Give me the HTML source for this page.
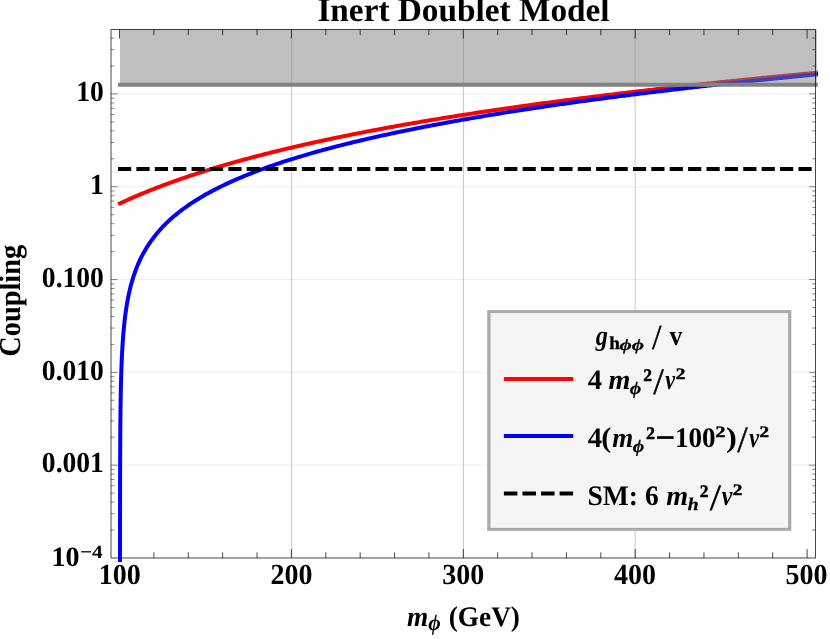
<!DOCTYPE html>
<html><head><meta charset="utf-8"><title>Inert Doublet Model</title>
<style>html,body{margin:0;padding:0;background:#fff;}svg{display:block;will-change:transform;text-rendering:geometricPrecision;}</style></head>
<body>
<svg width="830" height="639" viewBox="0 0 830 639">
<rect width="830" height="639" fill="#fff"/>
<line x1="291.70" x2="291.70" y1="29.50" y2="558.00" stroke="#000" stroke-opacity="0.22" stroke-width="1"/>
<line x1="463.40" x2="463.40" y1="29.50" y2="558.00" stroke="#000" stroke-opacity="0.22" stroke-width="1"/>
<line x1="635.10" x2="635.10" y1="29.50" y2="558.00" stroke="#000" stroke-opacity="0.22" stroke-width="1"/>
<line x1="111.00" x2="815.50" y1="93.95" y2="93.95" stroke="#000" stroke-opacity="0.065" stroke-width="1"/>
<line x1="111.00" x2="815.50" y1="186.75" y2="186.75" stroke="#000" stroke-opacity="0.065" stroke-width="1"/>
<line x1="111.00" x2="815.50" y1="279.55" y2="279.55" stroke="#000" stroke-opacity="0.065" stroke-width="1"/>
<line x1="111.00" x2="815.50" y1="372.35" y2="372.35" stroke="#000" stroke-opacity="0.065" stroke-width="1"/>
<line x1="111.00" x2="815.50" y1="465.15" y2="465.15" stroke="#000" stroke-opacity="0.065" stroke-width="1"/>
<path d="M120.00,203.44 L121.74,202.62 L123.48,201.82 L125.22,201.02 L126.96,200.23 L128.70,199.45 L130.44,198.68 L132.18,197.91 L133.92,197.15 L135.66,196.40 L137.40,195.66 L139.14,194.92 L140.88,194.19 L142.62,193.46 L144.36,192.74 L146.10,192.03 L147.84,191.33 L149.58,190.63 L151.32,189.93 L153.06,189.24 L154.80,188.56 L156.53,187.89 L158.27,187.22 L160.01,186.55 L161.75,185.89 L163.49,185.24 L165.23,184.59 L166.97,183.94 L168.71,183.30 L170.45,182.67 L172.19,182.04 L173.93,181.42 L175.67,180.80 L177.41,180.18 L179.15,179.58 L180.89,178.97 L182.63,178.37 L184.37,177.77 L186.11,177.18 L187.85,176.59 L189.59,176.01 L191.33,175.43 L193.07,174.86 L194.81,174.29 L196.55,173.72 L198.29,173.16 L200.03,172.60 L201.77,172.04 L203.51,171.49 L205.25,170.94 L206.99,170.40 L208.73,169.86 L210.47,169.32 L212.21,168.79 L213.95,168.26 L215.69,167.73 L217.43,167.21 L219.17,166.69 L220.91,166.17 L222.65,165.66 L224.39,165.15 L226.12,164.65 L227.86,164.14 L229.60,163.64 L231.34,163.15 L233.08,162.65 L234.82,162.16 L236.56,161.67 L238.30,161.19 L240.04,160.71 L241.78,160.23 L243.52,159.75 L245.26,159.28 L247.00,158.81 L248.74,158.34 L250.48,157.87 L252.22,157.41 L253.96,156.95 L255.70,156.49 L257.44,156.04 L259.18,155.58 L260.92,155.13 L262.66,154.69 L264.40,154.24 L266.14,153.80 L267.88,153.36 L269.62,152.92 L271.36,152.49 L273.10,152.05 L274.84,151.62 L276.58,151.20 L278.32,150.77 L280.06,150.35 L281.80,149.92 L283.54,149.50 L285.28,149.09 L287.02,148.67 L288.76,148.26 L290.50,147.85 L292.24,147.44 L293.98,147.03 L295.71,146.63 L297.45,146.23 L299.19,145.83 L300.93,145.43 L302.67,145.03 L304.41,144.63 L306.15,144.24 L307.89,143.85 L309.63,143.46 L311.37,143.07 L313.11,142.69 L314.85,142.31 L316.59,141.92 L318.33,141.54 L320.07,141.17 L321.81,140.79 L323.55,140.42 L325.29,140.04 L327.03,139.67 L328.77,139.30 L330.51,138.93 L332.25,138.57 L333.99,138.20 L335.73,137.84 L337.47,137.48 L339.21,137.12 L340.95,136.76 L342.69,136.41 L344.43,136.05 L346.17,135.70 L347.91,135.35 L349.65,135.00 L351.39,134.65 L353.13,134.30 L354.87,133.95 L356.61,133.61 L358.35,133.27 L360.09,132.93 L361.83,132.59 L363.57,132.25 L365.30,131.91 L367.04,131.58 L368.78,131.24 L370.52,130.91 L372.26,130.58 L374.00,130.25 L375.74,129.92 L377.48,129.59 L379.22,129.27 L380.96,128.94 L382.70,128.62 L384.44,128.29 L386.18,127.97 L387.92,127.65 L389.66,127.34 L391.40,127.02 L393.14,126.70 L394.88,126.39 L396.62,126.07 L398.36,125.76 L400.10,125.45 L401.84,125.14 L403.58,124.83 L405.32,124.53 L407.06,124.22 L408.80,123.91 L410.54,123.61 L412.28,123.31 L414.02,123.01 L415.76,122.71 L417.50,122.41 L419.24,122.11 L420.98,121.81 L422.72,121.51 L424.46,121.22 L426.20,120.93 L427.94,120.63 L429.68,120.34 L431.42,120.05 L433.16,119.76 L434.89,119.47 L436.63,119.18 L438.37,118.90 L440.11,118.61 L441.85,118.33 L443.59,118.04 L445.33,117.76 L447.07,117.48 L448.81,117.20 L450.55,116.92 L452.29,116.64 L454.03,116.36 L455.77,116.09 L457.51,115.81 L459.25,115.53 L460.99,115.26 L462.73,114.99 L464.47,114.72 L466.21,114.44 L467.95,114.17 L469.69,113.90 L471.43,113.64 L473.17,113.37 L474.91,113.10 L476.65,112.84 L478.39,112.57 L480.13,112.31 L481.87,112.04 L483.61,111.78 L485.35,111.52 L487.09,111.26 L488.83,111.00 L490.57,110.74 L492.31,110.48 L494.05,110.22 L495.79,109.97 L497.53,109.71 L499.27,109.46 L501.01,109.20 L502.75,108.95 L504.48,108.70 L506.22,108.45 L507.96,108.19 L509.70,107.94 L511.44,107.69 L513.18,107.45 L514.92,107.20 L516.66,106.95 L518.40,106.70 L520.14,106.46 L521.88,106.21 L523.62,105.97 L525.36,105.73 L527.10,105.48 L528.84,105.24 L530.58,105.00 L532.32,104.76 L534.06,104.52 L535.80,104.28 L537.54,104.04 L539.28,103.81 L541.02,103.57 L542.76,103.33 L544.50,103.10 L546.24,102.86 L547.98,102.63 L549.72,102.39 L551.46,102.16 L553.20,101.93 L554.94,101.70 L556.68,101.47 L558.42,101.24 L560.16,101.01 L561.90,100.78 L563.64,100.55 L565.38,100.32 L567.12,100.10 L568.86,99.87 L570.60,99.64 L572.34,99.42 L574.07,99.19 L575.81,98.97 L577.55,98.75 L579.29,98.53 L581.03,98.30 L582.77,98.08 L584.51,97.86 L586.25,97.64 L587.99,97.42 L589.73,97.20 L591.47,96.98 L593.21,96.77 L594.95,96.55 L596.69,96.33 L598.43,96.12 L600.17,95.90 L601.91,95.69 L603.65,95.47 L605.39,95.26 L607.13,95.05 L608.87,94.83 L610.61,94.62 L612.35,94.41 L614.09,94.20 L615.83,93.99 L617.57,93.78 L619.31,93.57 L621.05,93.36 L622.79,93.15 L624.53,92.94 L626.27,92.74 L628.01,92.53 L629.75,92.32 L631.49,92.12 L633.23,91.91 L634.97,91.71 L636.71,91.51 L638.45,91.30 L640.19,91.10 L641.93,90.90 L643.66,90.70 L645.40,90.49 L647.14,90.29 L648.88,90.09 L650.62,89.89 L652.36,89.69 L654.10,89.49 L655.84,89.30 L657.58,89.10 L659.32,88.90 L661.06,88.70 L662.80,88.51 L664.54,88.31 L666.28,88.12 L668.02,87.92 L669.76,87.73 L671.50,87.53 L673.24,87.34 L674.98,87.14 L676.72,86.95 L678.46,86.76 L680.20,86.57 L681.94,86.38 L683.68,86.19 L685.42,85.99 L687.16,85.80 L688.90,85.62 L690.64,85.43 L692.38,85.24 L694.12,85.05 L695.86,84.86 L697.60,84.67 L699.34,84.49 L701.08,84.30 L702.82,84.11 L704.56,83.93 L706.30,83.74 L708.04,83.56 L709.78,83.37 L711.52,83.19 L713.25,83.01 L714.99,82.82 L716.73,82.64 L718.47,82.46 L720.21,82.28 L721.95,82.10 L723.69,81.91 L725.43,81.73 L727.17,81.55 L728.91,81.37 L730.65,81.19 L732.39,81.02 L734.13,80.84 L735.87,80.66 L737.61,80.48 L739.35,80.30 L741.09,80.13 L742.83,79.95 L744.57,79.77 L746.31,79.60 L748.05,79.42 L749.79,79.25 L751.53,79.07 L753.27,78.90 L755.01,78.72 L756.75,78.55 L758.49,78.38 L760.23,78.20 L761.97,78.03 L763.71,77.86 L765.45,77.69 L767.19,77.52 L768.93,77.34 L770.67,77.17 L772.41,77.00 L774.15,76.83 L775.89,76.66 L777.63,76.49 L779.37,76.33 L781.11,76.16 L782.84,75.99 L784.58,75.82 L786.32,75.65 L788.06,75.49 L789.80,75.32 L791.54,75.15 L793.28,74.99 L795.02,74.82 L796.76,74.66 L798.50,74.49 L800.24,74.33 L801.98,74.16 L803.72,74.00 L805.46,73.83 L807.20,73.67 L808.94,73.51 L810.68,73.34 L812.42,73.18 L814.16,73.02 L815.90,72.86" fill="none" stroke="#ff0000" stroke-width="4" stroke-linecap="square" stroke-linejoin="round"/>
<path d="M120.00,560.10 L120.01,559.22 L120.01,553.81 L120.02,548.39 L120.02,542.98 L120.02,537.57 L120.02,532.15 L120.03,526.74 L120.03,521.32 L120.04,515.91 L120.04,510.50 L120.05,505.08 L120.06,499.67 L120.06,494.25 L120.07,488.84 L120.08,483.43 L120.09,478.01 L120.11,472.60 L120.12,467.18 L120.14,461.76 L120.16,456.35 L120.18,450.93 L120.21,445.52 L120.24,440.10 L120.28,434.68 L120.32,429.26 L120.36,423.85 L120.41,418.43 L120.47,413.01 L120.54,407.58 L120.62,402.16 L120.71,396.74 L120.81,391.31 L120.93,385.89 L121.06,380.46 L121.21,375.03 L121.39,369.59 L121.58,364.16 L121.81,358.72 L122.07,353.27 L122.37,347.82 L122.71,342.37 L123.10,336.91 L123.55,331.45 L124.06,325.97 L124.64,320.49 L125.31,315.00 L126.07,309.50 L126.94,303.99 L127.94,298.46 L129.08,292.92 L130.39,287.35 L131.88,281.77 L133.59,276.16 L135.54,270.53 L137.78,264.87 L140.33,259.17 L143.26,253.43 L146.60,247.65 L150.42,241.83 L154.80,235.94 L156.45,233.90 L158.10,231.94 L159.75,230.05 L161.41,228.24 L163.06,226.49 L164.71,224.80 L166.36,223.16 L168.02,221.58 L169.67,220.05 L171.32,218.56 L172.98,217.11 L174.63,215.71 L176.28,214.34 L177.93,213.00 L179.59,211.71 L181.24,210.44 L182.89,209.20 L184.54,207.99 L186.20,206.81 L187.85,205.65 L189.50,204.52 L191.16,203.41 L192.81,202.33 L194.46,201.26 L196.11,200.22 L197.77,199.19 L199.42,198.19 L201.07,197.20 L202.73,196.23 L204.38,195.28 L206.03,194.34 L207.68,193.42 L209.34,192.51 L210.99,191.62 L212.64,190.74 L214.29,189.88 L215.95,189.02 L217.60,188.18 L219.25,187.36 L220.91,186.54 L222.56,185.74 L224.21,184.94 L225.86,184.16 L227.52,183.39 L229.17,182.63 L230.82,181.87 L232.47,181.13 L234.13,180.40 L235.78,179.67 L237.43,178.96 L239.09,178.25 L240.74,177.55 L242.39,176.86 L244.04,176.17 L245.70,175.50 L247.35,174.83 L249.00,174.17 L250.66,173.52 L252.31,172.87 L253.96,172.23 L255.61,171.60 L257.27,170.97 L258.92,170.35 L260.57,169.73 L262.22,169.13 L263.88,168.52 L265.53,167.93 L267.18,167.33 L268.84,166.75 L270.49,166.17 L272.14,165.59 L273.79,165.02 L275.45,164.46 L277.10,163.90 L278.75,163.35 L280.40,162.80 L282.06,162.25 L283.71,161.71 L285.36,161.17 L287.02,160.64 L288.67,160.12 L290.32,159.59 L291.97,159.07 L293.63,158.56 L295.28,158.05 L296.93,157.54 L298.59,157.04 L300.24,156.54 L301.89,156.05 L303.54,155.56 L305.20,155.07 L306.85,154.58 L308.50,154.10 L310.15,153.63 L311.81,153.15 L313.46,152.68 L315.11,152.22 L316.77,151.75 L318.42,151.29 L320.07,150.84 L321.72,150.38 L323.38,149.93 L325.03,149.48 L326.68,149.04 L328.34,148.60 L329.99,148.16 L331.64,147.72 L333.29,147.29 L334.95,146.86 L336.60,146.43 L338.25,146.00 L339.90,145.58 L341.56,145.16 L343.21,144.74 L344.86,144.33 L346.52,143.92 L348.17,143.51 L349.82,143.10 L351.47,142.70 L353.13,142.29 L354.78,141.89 L356.43,141.50 L358.08,141.10 L359.74,140.71 L361.39,140.32 L363.04,139.93 L364.70,139.54 L366.35,139.16 L368.00,138.77 L369.65,138.39 L371.31,138.02 L372.96,137.64 L374.61,137.27 L376.27,136.89 L377.92,136.52 L379.57,136.16 L381.22,135.79 L382.88,135.42 L384.53,135.06 L386.18,134.70 L387.83,134.34 L389.49,133.99 L391.14,133.63 L392.79,133.28 L394.45,132.93 L396.10,132.58 L397.75,132.23 L399.40,131.88 L401.06,131.54 L402.71,131.20 L404.36,130.86 L406.01,130.52 L407.67,130.18 L409.32,129.84 L410.97,129.51 L412.63,129.17 L414.28,128.84 L415.93,128.51 L417.58,128.18 L419.24,127.86 L420.89,127.53 L422.54,127.21 L424.20,126.88 L425.85,126.56 L427.50,126.24 L429.15,125.93 L430.81,125.61 L432.46,125.29 L434.11,124.98 L435.76,124.67 L437.42,124.35 L439.07,124.04 L440.72,123.74 L442.38,123.43 L444.03,123.12 L445.68,122.82 L447.33,122.51 L448.99,122.21 L450.64,121.91 L452.29,121.61 L453.95,121.31 L455.60,121.02 L457.25,120.72 L458.90,120.43 L460.56,120.13 L462.21,119.84 L463.86,119.55 L465.51,119.26 L467.17,118.97 L468.82,118.68 L470.47,118.40 L472.13,118.11 L473.78,117.83 L475.43,117.54 L477.08,117.26 L478.74,116.98 L480.39,116.70 L482.04,116.42 L483.69,116.14 L485.35,115.87 L487.00,115.59 L488.65,115.31 L490.31,115.04 L491.96,114.77 L493.61,114.50 L495.26,114.23 L496.92,113.96 L498.57,113.69 L500.22,113.42 L501.88,113.15 L503.53,112.89 L505.18,112.62 L506.83,112.36 L508.49,112.10 L510.14,111.83 L511.79,111.57 L513.44,111.31 L515.10,111.05 L516.75,110.79 L518.40,110.54 L520.06,110.28 L521.71,110.02 L523.36,109.77 L525.01,109.52 L526.67,109.26 L528.32,109.01 L529.97,108.76 L531.62,108.51 L533.28,108.26 L534.93,108.01 L536.58,107.76 L538.24,107.52 L539.89,107.27 L541.54,107.02 L543.19,106.78 L544.85,106.54 L546.50,106.29 L548.15,106.05 L549.81,105.81 L551.46,105.57 L553.11,105.33 L554.76,105.09 L556.42,104.85 L558.07,104.61 L559.72,104.38 L561.37,104.14 L563.03,103.90 L564.68,103.67 L566.33,103.44 L567.99,103.20 L569.64,102.97 L571.29,102.74 L572.94,102.51 L574.60,102.28 L576.25,102.05 L577.90,101.82 L579.56,101.59 L581.21,101.36 L582.86,101.14 L584.51,100.91 L586.17,100.68 L587.82,100.46 L589.47,100.23 L591.12,100.01 L592.78,99.79 L594.43,99.57 L596.08,99.34 L597.74,99.12 L599.39,98.90 L601.04,98.68 L602.69,98.46 L604.35,98.25 L606.00,98.03 L607.65,97.81 L609.30,97.60 L610.96,97.38 L612.61,97.16 L614.26,96.95 L615.92,96.74 L617.57,96.52 L619.22,96.31 L620.87,96.10 L622.53,95.89 L624.18,95.67 L625.83,95.46 L627.49,95.25 L629.14,95.05 L630.79,94.84 L632.44,94.63 L634.10,94.42 L635.75,94.21 L637.40,94.01 L639.05,93.80 L640.71,93.60 L642.36,93.39 L644.01,93.19 L645.67,92.98 L647.32,92.78 L648.97,92.58 L650.62,92.38 L652.28,92.17 L653.93,91.97 L655.58,91.77 L657.23,91.57 L658.89,91.37 L660.54,91.18 L662.19,90.98 L663.85,90.78 L665.50,90.58 L667.15,90.39 L668.80,90.19 L670.46,89.99 L672.11,89.80 L673.76,89.60 L675.42,89.41 L677.07,89.21 L678.72,89.02 L680.37,88.83 L682.03,88.64 L683.68,88.44 L685.33,88.25 L686.98,88.06 L688.64,87.87 L690.29,87.68 L691.94,87.49 L693.60,87.30 L695.25,87.11 L696.90,86.93 L698.55,86.74 L700.21,86.55 L701.86,86.37 L703.51,86.18 L705.16,85.99 L706.82,85.81 L708.47,85.62 L710.12,85.44 L711.78,85.25 L713.43,85.07 L715.08,84.89 L716.73,84.71 L718.39,84.52 L720.04,84.34 L721.69,84.16 L723.35,83.98 L725.00,83.80 L726.65,83.62 L728.30,83.44 L729.96,83.26 L731.61,83.08 L733.26,82.90 L734.91,82.72 L736.57,82.55 L738.22,82.37 L739.87,82.19 L741.53,82.02 L743.18,81.84 L744.83,81.66 L746.48,81.49 L748.14,81.31 L749.79,81.14 L751.44,80.97 L753.10,80.79 L754.75,80.62 L756.40,80.45 L758.05,80.27 L759.71,80.10 L761.36,79.93 L763.01,79.76 L764.66,79.59 L766.32,79.42 L767.97,79.25 L769.62,79.08 L771.28,78.91 L772.93,78.74 L774.58,78.57 L776.23,78.40 L777.89,78.23 L779.54,78.07 L781.19,77.90 L782.84,77.73 L784.50,77.57 L786.15,77.40 L787.80,77.23 L789.46,77.07 L791.11,76.90 L792.76,76.74 L794.41,76.57 L796.07,76.41 L797.72,76.25 L799.37,76.08 L801.03,75.92 L802.68,75.76 L804.33,75.59 L805.98,75.43 L807.64,75.27 L809.29,75.11 L810.94,74.95 L812.59,74.79 L814.25,74.63 L815.90,74.47" fill="none" stroke="#0000ff" stroke-width="4" stroke-linecap="square" stroke-linejoin="round"/>
<line x1="120.00" x2="815.90" y1="169.11" y2="169.11" stroke="#000" stroke-width="4" stroke-linecap="square" stroke-dasharray="9.195 9.195"/>
<rect x="120.00" y="29.50" width="696.90" height="55.25" fill="#808080" fill-opacity="0.5"/>
<line x1="120.00" x2="815.90" y1="84.75" y2="84.75" stroke="#828282" stroke-width="3.9" stroke-linecap="square"/>
<rect x="111.00" y="29.50" width="704.50" height="528.50" fill="none" stroke="#000" stroke-opacity="0.72" stroke-width="1"/>
<line x1="119.50" x2="119.50" y1="558.00" y2="549.00" stroke="#000" stroke-opacity="0.72" stroke-width="1"/>
<line x1="119.50" x2="119.50" y1="29.50" y2="38.50" stroke="#000" stroke-opacity="0.72" stroke-width="1"/>
<line x1="153.88" x2="153.88" y1="558.00" y2="552.40" stroke="#000" stroke-opacity="0.72" stroke-width="1"/>
<line x1="153.88" x2="153.88" y1="29.50" y2="35.10" stroke="#000" stroke-opacity="0.72" stroke-width="1"/>
<line x1="188.26" x2="188.26" y1="558.00" y2="552.40" stroke="#000" stroke-opacity="0.72" stroke-width="1"/>
<line x1="188.26" x2="188.26" y1="29.50" y2="35.10" stroke="#000" stroke-opacity="0.72" stroke-width="1"/>
<line x1="222.64" x2="222.64" y1="558.00" y2="552.40" stroke="#000" stroke-opacity="0.72" stroke-width="1"/>
<line x1="222.64" x2="222.64" y1="29.50" y2="35.10" stroke="#000" stroke-opacity="0.72" stroke-width="1"/>
<line x1="257.02" x2="257.02" y1="558.00" y2="552.40" stroke="#000" stroke-opacity="0.72" stroke-width="1"/>
<line x1="257.02" x2="257.02" y1="29.50" y2="35.10" stroke="#000" stroke-opacity="0.72" stroke-width="1"/>
<line x1="291.40" x2="291.40" y1="558.00" y2="549.00" stroke="#000" stroke-opacity="0.72" stroke-width="1"/>
<line x1="291.40" x2="291.40" y1="29.50" y2="38.50" stroke="#000" stroke-opacity="0.72" stroke-width="1"/>
<line x1="325.78" x2="325.78" y1="558.00" y2="552.40" stroke="#000" stroke-opacity="0.72" stroke-width="1"/>
<line x1="325.78" x2="325.78" y1="29.50" y2="35.10" stroke="#000" stroke-opacity="0.72" stroke-width="1"/>
<line x1="360.16" x2="360.16" y1="558.00" y2="552.40" stroke="#000" stroke-opacity="0.72" stroke-width="1"/>
<line x1="360.16" x2="360.16" y1="29.50" y2="35.10" stroke="#000" stroke-opacity="0.72" stroke-width="1"/>
<line x1="394.54" x2="394.54" y1="558.00" y2="552.40" stroke="#000" stroke-opacity="0.72" stroke-width="1"/>
<line x1="394.54" x2="394.54" y1="29.50" y2="35.10" stroke="#000" stroke-opacity="0.72" stroke-width="1"/>
<line x1="428.92" x2="428.92" y1="558.00" y2="552.40" stroke="#000" stroke-opacity="0.72" stroke-width="1"/>
<line x1="428.92" x2="428.92" y1="29.50" y2="35.10" stroke="#000" stroke-opacity="0.72" stroke-width="1"/>
<line x1="463.30" x2="463.30" y1="558.00" y2="549.00" stroke="#000" stroke-opacity="0.72" stroke-width="1"/>
<line x1="463.30" x2="463.30" y1="29.50" y2="38.50" stroke="#000" stroke-opacity="0.72" stroke-width="1"/>
<line x1="497.68" x2="497.68" y1="558.00" y2="552.40" stroke="#000" stroke-opacity="0.72" stroke-width="1"/>
<line x1="497.68" x2="497.68" y1="29.50" y2="35.10" stroke="#000" stroke-opacity="0.72" stroke-width="1"/>
<line x1="532.06" x2="532.06" y1="558.00" y2="552.40" stroke="#000" stroke-opacity="0.72" stroke-width="1"/>
<line x1="532.06" x2="532.06" y1="29.50" y2="35.10" stroke="#000" stroke-opacity="0.72" stroke-width="1"/>
<line x1="566.44" x2="566.44" y1="558.00" y2="552.40" stroke="#000" stroke-opacity="0.72" stroke-width="1"/>
<line x1="566.44" x2="566.44" y1="29.50" y2="35.10" stroke="#000" stroke-opacity="0.72" stroke-width="1"/>
<line x1="600.82" x2="600.82" y1="558.00" y2="552.40" stroke="#000" stroke-opacity="0.72" stroke-width="1"/>
<line x1="600.82" x2="600.82" y1="29.50" y2="35.10" stroke="#000" stroke-opacity="0.72" stroke-width="1"/>
<line x1="635.20" x2="635.20" y1="558.00" y2="549.00" stroke="#000" stroke-opacity="0.72" stroke-width="1"/>
<line x1="635.20" x2="635.20" y1="29.50" y2="38.50" stroke="#000" stroke-opacity="0.72" stroke-width="1"/>
<line x1="669.58" x2="669.58" y1="558.00" y2="552.40" stroke="#000" stroke-opacity="0.72" stroke-width="1"/>
<line x1="669.58" x2="669.58" y1="29.50" y2="35.10" stroke="#000" stroke-opacity="0.72" stroke-width="1"/>
<line x1="703.96" x2="703.96" y1="558.00" y2="552.40" stroke="#000" stroke-opacity="0.72" stroke-width="1"/>
<line x1="703.96" x2="703.96" y1="29.50" y2="35.10" stroke="#000" stroke-opacity="0.72" stroke-width="1"/>
<line x1="738.34" x2="738.34" y1="558.00" y2="552.40" stroke="#000" stroke-opacity="0.72" stroke-width="1"/>
<line x1="738.34" x2="738.34" y1="29.50" y2="35.10" stroke="#000" stroke-opacity="0.72" stroke-width="1"/>
<line x1="772.72" x2="772.72" y1="558.00" y2="552.40" stroke="#000" stroke-opacity="0.72" stroke-width="1"/>
<line x1="772.72" x2="772.72" y1="29.50" y2="35.10" stroke="#000" stroke-opacity="0.72" stroke-width="1"/>
<line x1="807.10" x2="807.10" y1="558.00" y2="549.00" stroke="#000" stroke-opacity="0.72" stroke-width="1"/>
<line x1="807.10" x2="807.10" y1="29.50" y2="38.50" stroke="#000" stroke-opacity="0.72" stroke-width="1"/>
<line x1="111.00" x2="114.40" y1="530.01" y2="530.01" stroke="#000" stroke-opacity="0.72" stroke-width="0.65"/>
<line x1="815.50" x2="812.10" y1="530.01" y2="530.01" stroke="#000" stroke-opacity="0.72" stroke-width="0.65"/>
<line x1="111.00" x2="114.40" y1="513.67" y2="513.67" stroke="#000" stroke-opacity="0.72" stroke-width="0.65"/>
<line x1="815.50" x2="812.10" y1="513.67" y2="513.67" stroke="#000" stroke-opacity="0.72" stroke-width="0.65"/>
<line x1="111.00" x2="114.40" y1="502.08" y2="502.08" stroke="#000" stroke-opacity="0.72" stroke-width="0.65"/>
<line x1="815.50" x2="812.10" y1="502.08" y2="502.08" stroke="#000" stroke-opacity="0.72" stroke-width="0.65"/>
<line x1="111.00" x2="114.40" y1="493.09" y2="493.09" stroke="#000" stroke-opacity="0.72" stroke-width="0.65"/>
<line x1="815.50" x2="812.10" y1="493.09" y2="493.09" stroke="#000" stroke-opacity="0.72" stroke-width="0.65"/>
<line x1="111.00" x2="114.40" y1="485.74" y2="485.74" stroke="#000" stroke-opacity="0.72" stroke-width="0.65"/>
<line x1="815.50" x2="812.10" y1="485.74" y2="485.74" stroke="#000" stroke-opacity="0.72" stroke-width="0.65"/>
<line x1="111.00" x2="114.40" y1="479.52" y2="479.52" stroke="#000" stroke-opacity="0.72" stroke-width="0.65"/>
<line x1="815.50" x2="812.10" y1="479.52" y2="479.52" stroke="#000" stroke-opacity="0.72" stroke-width="0.65"/>
<line x1="111.00" x2="114.40" y1="474.14" y2="474.14" stroke="#000" stroke-opacity="0.72" stroke-width="0.65"/>
<line x1="815.50" x2="812.10" y1="474.14" y2="474.14" stroke="#000" stroke-opacity="0.72" stroke-width="0.65"/>
<line x1="111.00" x2="114.40" y1="469.40" y2="469.40" stroke="#000" stroke-opacity="0.72" stroke-width="0.65"/>
<line x1="815.50" x2="812.10" y1="469.40" y2="469.40" stroke="#000" stroke-opacity="0.72" stroke-width="0.65"/>
<line x1="111.00" x2="117.50" y1="465.15" y2="465.15" stroke="#000" stroke-opacity="0.72" stroke-width="0.65"/>
<line x1="815.50" x2="809.00" y1="465.15" y2="465.15" stroke="#000" stroke-opacity="0.72" stroke-width="0.65"/>
<line x1="111.00" x2="114.40" y1="437.21" y2="437.21" stroke="#000" stroke-opacity="0.72" stroke-width="0.65"/>
<line x1="815.50" x2="812.10" y1="437.21" y2="437.21" stroke="#000" stroke-opacity="0.72" stroke-width="0.65"/>
<line x1="111.00" x2="114.40" y1="420.87" y2="420.87" stroke="#000" stroke-opacity="0.72" stroke-width="0.65"/>
<line x1="815.50" x2="812.10" y1="420.87" y2="420.87" stroke="#000" stroke-opacity="0.72" stroke-width="0.65"/>
<line x1="111.00" x2="114.40" y1="409.28" y2="409.28" stroke="#000" stroke-opacity="0.72" stroke-width="0.65"/>
<line x1="815.50" x2="812.10" y1="409.28" y2="409.28" stroke="#000" stroke-opacity="0.72" stroke-width="0.65"/>
<line x1="111.00" x2="114.40" y1="400.29" y2="400.29" stroke="#000" stroke-opacity="0.72" stroke-width="0.65"/>
<line x1="815.50" x2="812.10" y1="400.29" y2="400.29" stroke="#000" stroke-opacity="0.72" stroke-width="0.65"/>
<line x1="111.00" x2="114.40" y1="392.94" y2="392.94" stroke="#000" stroke-opacity="0.72" stroke-width="0.65"/>
<line x1="815.50" x2="812.10" y1="392.94" y2="392.94" stroke="#000" stroke-opacity="0.72" stroke-width="0.65"/>
<line x1="111.00" x2="114.40" y1="386.72" y2="386.72" stroke="#000" stroke-opacity="0.72" stroke-width="0.65"/>
<line x1="815.50" x2="812.10" y1="386.72" y2="386.72" stroke="#000" stroke-opacity="0.72" stroke-width="0.65"/>
<line x1="111.00" x2="114.40" y1="381.34" y2="381.34" stroke="#000" stroke-opacity="0.72" stroke-width="0.65"/>
<line x1="815.50" x2="812.10" y1="381.34" y2="381.34" stroke="#000" stroke-opacity="0.72" stroke-width="0.65"/>
<line x1="111.00" x2="114.40" y1="376.60" y2="376.60" stroke="#000" stroke-opacity="0.72" stroke-width="0.65"/>
<line x1="815.50" x2="812.10" y1="376.60" y2="376.60" stroke="#000" stroke-opacity="0.72" stroke-width="0.65"/>
<line x1="111.00" x2="117.50" y1="372.35" y2="372.35" stroke="#000" stroke-opacity="0.72" stroke-width="0.65"/>
<line x1="815.50" x2="809.00" y1="372.35" y2="372.35" stroke="#000" stroke-opacity="0.72" stroke-width="0.65"/>
<line x1="111.00" x2="114.40" y1="344.41" y2="344.41" stroke="#000" stroke-opacity="0.72" stroke-width="0.65"/>
<line x1="815.50" x2="812.10" y1="344.41" y2="344.41" stroke="#000" stroke-opacity="0.72" stroke-width="0.65"/>
<line x1="111.00" x2="114.40" y1="328.07" y2="328.07" stroke="#000" stroke-opacity="0.72" stroke-width="0.65"/>
<line x1="815.50" x2="812.10" y1="328.07" y2="328.07" stroke="#000" stroke-opacity="0.72" stroke-width="0.65"/>
<line x1="111.00" x2="114.40" y1="316.48" y2="316.48" stroke="#000" stroke-opacity="0.72" stroke-width="0.65"/>
<line x1="815.50" x2="812.10" y1="316.48" y2="316.48" stroke="#000" stroke-opacity="0.72" stroke-width="0.65"/>
<line x1="111.00" x2="114.40" y1="307.49" y2="307.49" stroke="#000" stroke-opacity="0.72" stroke-width="0.65"/>
<line x1="815.50" x2="812.10" y1="307.49" y2="307.49" stroke="#000" stroke-opacity="0.72" stroke-width="0.65"/>
<line x1="111.00" x2="114.40" y1="300.14" y2="300.14" stroke="#000" stroke-opacity="0.72" stroke-width="0.65"/>
<line x1="815.50" x2="812.10" y1="300.14" y2="300.14" stroke="#000" stroke-opacity="0.72" stroke-width="0.65"/>
<line x1="111.00" x2="114.40" y1="293.92" y2="293.92" stroke="#000" stroke-opacity="0.72" stroke-width="0.65"/>
<line x1="815.50" x2="812.10" y1="293.92" y2="293.92" stroke="#000" stroke-opacity="0.72" stroke-width="0.65"/>
<line x1="111.00" x2="114.40" y1="288.54" y2="288.54" stroke="#000" stroke-opacity="0.72" stroke-width="0.65"/>
<line x1="815.50" x2="812.10" y1="288.54" y2="288.54" stroke="#000" stroke-opacity="0.72" stroke-width="0.65"/>
<line x1="111.00" x2="114.40" y1="283.80" y2="283.80" stroke="#000" stroke-opacity="0.72" stroke-width="0.65"/>
<line x1="815.50" x2="812.10" y1="283.80" y2="283.80" stroke="#000" stroke-opacity="0.72" stroke-width="0.65"/>
<line x1="111.00" x2="117.50" y1="279.55" y2="279.55" stroke="#000" stroke-opacity="0.72" stroke-width="0.65"/>
<line x1="815.50" x2="809.00" y1="279.55" y2="279.55" stroke="#000" stroke-opacity="0.72" stroke-width="0.65"/>
<line x1="111.00" x2="114.40" y1="251.61" y2="251.61" stroke="#000" stroke-opacity="0.72" stroke-width="0.65"/>
<line x1="815.50" x2="812.10" y1="251.61" y2="251.61" stroke="#000" stroke-opacity="0.72" stroke-width="0.65"/>
<line x1="111.00" x2="114.40" y1="235.27" y2="235.27" stroke="#000" stroke-opacity="0.72" stroke-width="0.65"/>
<line x1="815.50" x2="812.10" y1="235.27" y2="235.27" stroke="#000" stroke-opacity="0.72" stroke-width="0.65"/>
<line x1="111.00" x2="114.40" y1="223.68" y2="223.68" stroke="#000" stroke-opacity="0.72" stroke-width="0.65"/>
<line x1="815.50" x2="812.10" y1="223.68" y2="223.68" stroke="#000" stroke-opacity="0.72" stroke-width="0.65"/>
<line x1="111.00" x2="114.40" y1="214.69" y2="214.69" stroke="#000" stroke-opacity="0.72" stroke-width="0.65"/>
<line x1="815.50" x2="812.10" y1="214.69" y2="214.69" stroke="#000" stroke-opacity="0.72" stroke-width="0.65"/>
<line x1="111.00" x2="114.40" y1="207.34" y2="207.34" stroke="#000" stroke-opacity="0.72" stroke-width="0.65"/>
<line x1="815.50" x2="812.10" y1="207.34" y2="207.34" stroke="#000" stroke-opacity="0.72" stroke-width="0.65"/>
<line x1="111.00" x2="114.40" y1="201.12" y2="201.12" stroke="#000" stroke-opacity="0.72" stroke-width="0.65"/>
<line x1="815.50" x2="812.10" y1="201.12" y2="201.12" stroke="#000" stroke-opacity="0.72" stroke-width="0.65"/>
<line x1="111.00" x2="114.40" y1="195.74" y2="195.74" stroke="#000" stroke-opacity="0.72" stroke-width="0.65"/>
<line x1="815.50" x2="812.10" y1="195.74" y2="195.74" stroke="#000" stroke-opacity="0.72" stroke-width="0.65"/>
<line x1="111.00" x2="114.40" y1="191.00" y2="191.00" stroke="#000" stroke-opacity="0.72" stroke-width="0.65"/>
<line x1="815.50" x2="812.10" y1="191.00" y2="191.00" stroke="#000" stroke-opacity="0.72" stroke-width="0.65"/>
<line x1="111.00" x2="117.50" y1="186.75" y2="186.75" stroke="#000" stroke-opacity="0.72" stroke-width="0.65"/>
<line x1="815.50" x2="809.00" y1="186.75" y2="186.75" stroke="#000" stroke-opacity="0.72" stroke-width="0.65"/>
<line x1="111.00" x2="114.40" y1="158.81" y2="158.81" stroke="#000" stroke-opacity="0.72" stroke-width="0.65"/>
<line x1="815.50" x2="812.10" y1="158.81" y2="158.81" stroke="#000" stroke-opacity="0.72" stroke-width="0.65"/>
<line x1="111.00" x2="114.40" y1="142.47" y2="142.47" stroke="#000" stroke-opacity="0.72" stroke-width="0.65"/>
<line x1="815.50" x2="812.10" y1="142.47" y2="142.47" stroke="#000" stroke-opacity="0.72" stroke-width="0.65"/>
<line x1="111.00" x2="114.40" y1="130.88" y2="130.88" stroke="#000" stroke-opacity="0.72" stroke-width="0.65"/>
<line x1="815.50" x2="812.10" y1="130.88" y2="130.88" stroke="#000" stroke-opacity="0.72" stroke-width="0.65"/>
<line x1="111.00" x2="114.40" y1="121.89" y2="121.89" stroke="#000" stroke-opacity="0.72" stroke-width="0.65"/>
<line x1="815.50" x2="812.10" y1="121.89" y2="121.89" stroke="#000" stroke-opacity="0.72" stroke-width="0.65"/>
<line x1="111.00" x2="114.40" y1="114.54" y2="114.54" stroke="#000" stroke-opacity="0.72" stroke-width="0.65"/>
<line x1="815.50" x2="812.10" y1="114.54" y2="114.54" stroke="#000" stroke-opacity="0.72" stroke-width="0.65"/>
<line x1="111.00" x2="114.40" y1="108.32" y2="108.32" stroke="#000" stroke-opacity="0.72" stroke-width="0.65"/>
<line x1="815.50" x2="812.10" y1="108.32" y2="108.32" stroke="#000" stroke-opacity="0.72" stroke-width="0.65"/>
<line x1="111.00" x2="114.40" y1="102.94" y2="102.94" stroke="#000" stroke-opacity="0.72" stroke-width="0.65"/>
<line x1="815.50" x2="812.10" y1="102.94" y2="102.94" stroke="#000" stroke-opacity="0.72" stroke-width="0.65"/>
<line x1="111.00" x2="114.40" y1="98.20" y2="98.20" stroke="#000" stroke-opacity="0.72" stroke-width="0.65"/>
<line x1="815.50" x2="812.10" y1="98.20" y2="98.20" stroke="#000" stroke-opacity="0.72" stroke-width="0.65"/>
<line x1="111.00" x2="117.50" y1="93.95" y2="93.95" stroke="#000" stroke-opacity="0.72" stroke-width="0.65"/>
<line x1="815.50" x2="809.00" y1="93.95" y2="93.95" stroke="#000" stroke-opacity="0.72" stroke-width="0.65"/>
<line x1="111.00" x2="114.40" y1="66.01" y2="66.01" stroke="#000" stroke-opacity="0.72" stroke-width="0.65"/>
<line x1="815.50" x2="812.10" y1="66.01" y2="66.01" stroke="#000" stroke-opacity="0.72" stroke-width="0.65"/>
<line x1="111.00" x2="114.40" y1="49.67" y2="49.67" stroke="#000" stroke-opacity="0.72" stroke-width="0.65"/>
<line x1="815.50" x2="812.10" y1="49.67" y2="49.67" stroke="#000" stroke-opacity="0.72" stroke-width="0.65"/>
<line x1="111.00" x2="114.40" y1="38.08" y2="38.08" stroke="#000" stroke-opacity="0.72" stroke-width="0.65"/>
<line x1="815.50" x2="812.10" y1="38.08" y2="38.08" stroke="#000" stroke-opacity="0.72" stroke-width="0.65"/>
<text x="463.5" y="21.2" text-anchor="middle" font-size="33.3" font-family="Liberation Serif, serif" font-weight="bold" fill="#000">Inert Doublet Model</text>
<text transform="translate(119.80,584.1) scale(1,1.04)" text-anchor="middle" font-size="28" font-family="Liberation Serif, serif" font-weight="bold" fill="#000">100</text>
<text transform="translate(291.50,584.1) scale(1,1.04)" text-anchor="middle" font-size="28" font-family="Liberation Serif, serif" font-weight="bold" fill="#000">200</text>
<text transform="translate(463.20,584.1) scale(1,1.04)" text-anchor="middle" font-size="28" font-family="Liberation Serif, serif" font-weight="bold" fill="#000">300</text>
<text transform="translate(634.90,584.1) scale(1,1.04)" text-anchor="middle" font-size="28" font-family="Liberation Serif, serif" font-weight="bold" fill="#000">400</text>
<text transform="translate(806.60,584.1) scale(1,1.04)" text-anchor="middle" font-size="28" font-family="Liberation Serif, serif" font-weight="bold" fill="#000">500</text>
<text transform="translate(103.9,101.15) scale(0.985,1.04)" text-anchor="end" font-size="28" font-family="Liberation Serif, serif" font-weight="bold" fill="#000">10</text>
<text transform="translate(103.9,193.95) scale(0.985,1.04)" text-anchor="end" font-size="28" font-family="Liberation Serif, serif" font-weight="bold" fill="#000">1</text>
<text transform="translate(103.9,286.75) scale(0.985,1.04)" text-anchor="end" font-size="28" font-family="Liberation Serif, serif" font-weight="bold" fill="#000">0.100</text>
<text transform="translate(103.9,379.55) scale(0.985,1.04)" text-anchor="end" font-size="28" font-family="Liberation Serif, serif" font-weight="bold" fill="#000">0.010</text>
<text transform="translate(103.9,472.35) scale(0.985,1.04)" text-anchor="end" font-size="28" font-family="Liberation Serif, serif" font-weight="bold" fill="#000">0.001</text>
<text transform="translate(51.61,566.40) scale(1.0003,1.0000)" font-size="28" font-family="Liberation Serif, serif" font-weight="bold" font-style="normal" fill="#000">10</text>
<text transform="translate(79.93,558.35) scale(1.0110,0.8899)" font-size="21" font-family="Liberation Serif, serif" font-weight="bold" font-style="normal" fill="#000">−4</text>
<text transform="translate(19.6,300.8) rotate(-90) scale(1,1.07)" text-anchor="middle" font-size="28.4" font-family="Liberation Serif, serif" font-weight="bold" fill="#000">Coupling</text>
<text transform="translate(407,625.7) scale(1,1.04)" font-size="27.3" font-family="Liberation Serif, serif" font-weight="bold" fill="#000"><tspan font-style="italic">m</tspan><tspan font-style="italic" font-size="21.5" dy="4.5">ϕ</tspan><tspan dy="-4.5" dx="1.2"> (GeV)</tspan></text>
<rect x="487.2" y="310.1" width="304.1" height="220.7" fill="#aaaaaa"/>
<rect x="490.5" y="313.1" width="297.6" height="214.8" fill="#f5f5f5"/>
<line x1="505.9" x2="571.2" y1="379.0" y2="379.0" stroke="#ff0000" stroke-width="4" stroke-linecap="square"/>
<line x1="505.9" x2="571.2" y1="436.1" y2="436.1" stroke="#0000ff" stroke-width="4" stroke-linecap="square"/>
<line x1="505.9" x2="571.2" y1="493.6" y2="493.6" stroke="#000" stroke-width="4" stroke-linecap="square" stroke-dasharray="9.5 9.07"/>
<text transform="translate(595.80,344.70) scale(0.8615,1.0000)" font-size="28.3" font-family="Liberation Serif, serif" font-weight="bold" font-style="italic" fill="#000">g</text>
<text transform="translate(609.27,348.50) scale(1.0657,1.0000)" font-size="18" font-family="Liberation Serif, serif" font-weight="bold" font-style="normal" fill="#000" stroke="#000" stroke-width="0.3">h</text>
<text transform="translate(619.62,349.93) scale(1.1758,0.8919)" font-size="18" font-family="Liberation Serif, serif" font-weight="bold" font-style="italic" fill="#000" stroke="#000" stroke-width="0.3">ϕϕ</text>
<text transform="translate(652.05,349.11) scale(1.2082,1.2413)" font-size="28.3" font-family="Liberation Serif, serif" font-weight="normal" font-style="normal" fill="#000" stroke="#000" stroke-width="0.25">/</text>
<text transform="translate(669.45,344.70) scale(0.9046,1.0000)" font-size="28.3" font-family="Liberation Serif, serif" font-weight="bold" font-style="normal" fill="#000">v</text>
<text transform="translate(587.76,388.70) scale(1.0122,1.0000)" font-size="28.3" font-family="Liberation Serif, serif" font-weight="bold" font-style="normal" fill="#000">4</text>
<text transform="translate(608.51,388.70) scale(0.9941,1.0000)" font-size="28.3" font-family="Liberation Serif, serif" font-weight="bold" font-style="italic" fill="#000">m</text>
<text transform="translate(629.74,393.80) scale(1.0970,0.9786)" font-size="18" font-family="Liberation Serif, serif" font-weight="bold" font-style="italic" fill="#000" stroke="#000" stroke-width="0.3">ϕ</text>
<text transform="translate(643.21,380.65) scale(1.0346,1.0395)" font-size="17" font-family="Liberation Serif, serif" font-weight="bold" font-style="normal" fill="#000" stroke="#000" stroke-width="0.45">2</text>
<text transform="translate(653.15,393.79) scale(1.3481,1.3153)" font-size="28.3" font-family="Liberation Serif, serif" font-weight="normal" font-style="normal" fill="#000" stroke="#000" stroke-width="0.25">/</text>
<text transform="translate(665.24,388.70) scale(0.7811,1.0000)" font-size="28.3" font-family="Liberation Serif, serif" font-weight="bold" font-style="italic" fill="#000">v</text>
<text transform="translate(675.64,378.55) scale(1.1338,0.9417)" font-size="17" font-family="Liberation Serif, serif" font-weight="bold" font-style="normal" fill="#000" stroke="#000" stroke-width="0.45">2</text>
<text transform="translate(587.76,446.70) scale(1.0122,1.0000)" font-size="28.3" font-family="Liberation Serif, serif" font-weight="bold" font-style="normal" fill="#000">4</text>
<text transform="translate(601.23,446.70) scale(1.0594,1.0000)" font-size="28.3" font-family="Liberation Serif, serif" font-weight="bold" font-style="normal" fill="#000">(</text>
<text transform="translate(612.14,446.70) scale(0.9543,1.0000)" font-size="28.3" font-family="Liberation Serif, serif" font-weight="bold" font-style="italic" fill="#000">m</text>
<text transform="translate(632.64,451.80) scale(1.0970,0.9786)" font-size="18" font-family="Liberation Serif, serif" font-weight="bold" font-style="italic" fill="#000" stroke="#000" stroke-width="0.3">ϕ</text>
<text transform="translate(646.09,438.65) scale(1.0630,1.0395)" font-size="17" font-family="Liberation Serif, serif" font-weight="bold" font-style="normal" fill="#000" stroke="#000" stroke-width="0.45">2</text>
<text transform="translate(655.68,446.70) scale(1.1859,1.0000)" font-size="28.3" font-family="Liberation Serif, serif" font-weight="bold" font-style="normal" fill="#000" stroke="#000" stroke-width="0.8">−</text>
<text transform="translate(674.88,446.70) scale(0.9589,1.0000)" font-size="28.3" font-family="Liberation Serif, serif" font-weight="bold" font-style="normal" fill="#000">100</text>
<text transform="translate(715.42,436.55) scale(1.1622,0.9417)" font-size="17" font-family="Liberation Serif, serif" font-weight="bold" font-style="normal" fill="#000" stroke="#000" stroke-width="0.45">2</text>
<text transform="translate(726.10,446.70) scale(1.1557,1.0000)" font-size="28.3" font-family="Liberation Serif, serif" font-weight="bold" font-style="normal" fill="#000">)</text>
<text transform="translate(737.25,451.79) scale(1.3354,1.3153)" font-size="28.3" font-family="Liberation Serif, serif" font-weight="normal" font-style="normal" fill="#000" stroke="#000" stroke-width="0.25">/</text>
<text transform="translate(749.34,446.70) scale(0.7811,1.0000)" font-size="28.3" font-family="Liberation Serif, serif" font-weight="bold" font-style="italic" fill="#000">v</text>
<text transform="translate(759.45,436.55) scale(1.1197,0.9417)" font-size="17" font-family="Liberation Serif, serif" font-weight="bold" font-style="normal" fill="#000" stroke="#000" stroke-width="0.45">2</text>
<text transform="translate(587.38,505.30) scale(0.9762,1.0000)" font-size="28.3" font-family="Liberation Serif, serif" font-weight="bold" font-style="normal" fill="#000">SM:</text>
<text transform="translate(645.01,505.30) scale(0.9714,1.0000)" font-size="28.3" font-family="Liberation Serif, serif" font-weight="bold" font-style="normal" fill="#000">6</text>
<text transform="translate(666.31,505.30) scale(0.9941,1.0000)" font-size="28.3" font-family="Liberation Serif, serif" font-weight="bold" font-style="italic" fill="#000">m</text>
<text transform="translate(687.67,509.85) scale(1.0841,0.9848)" font-size="18" font-family="Liberation Serif, serif" font-weight="bold" font-style="italic" fill="#000" stroke="#000" stroke-width="0.3">h</text>
<text transform="translate(699.81,497.25) scale(1.0346,1.0395)" font-size="17" font-family="Liberation Serif, serif" font-weight="bold" font-style="normal" fill="#000" stroke="#000" stroke-width="0.45">2</text>
<text transform="translate(709.75,510.39) scale(1.4372,1.3153)" font-size="28.3" font-family="Liberation Serif, serif" font-weight="normal" font-style="normal" fill="#000" stroke="#000" stroke-width="0.25">/</text>
<text transform="translate(721.83,505.30) scale(0.8448,1.0000)" font-size="28.3" font-family="Liberation Serif, serif" font-weight="bold" font-style="italic" fill="#000">v</text>
<text transform="translate(732.74,495.15) scale(1.1338,0.9417)" font-size="17" font-family="Liberation Serif, serif" font-weight="bold" font-style="normal" fill="#000" stroke="#000" stroke-width="0.45">2</text>
</svg>
</body></html>
